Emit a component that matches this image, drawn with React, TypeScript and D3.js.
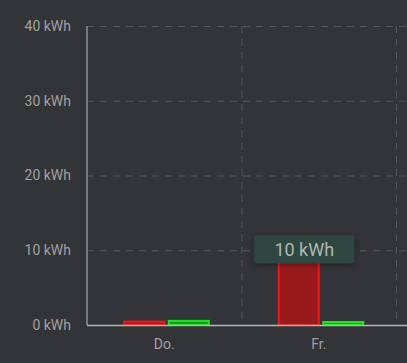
import React from "react";
import * as d3 from "d3";

const categories = ["Do.", "Fr."];
const consumption = [0.45, 10];
const solar = [0.55, 0.4];
const yTicks = [0, 10, 20, 30, 40];
const unit = "kWh";
const tooltipLabel = "10 kWh";

const W = 407;
const H = 363;

export default function App() {
  const left = 87;
  const top = 26;
  const bottom = 325;
  const bandW = 154.5;
  const x = d3.scaleBand<string>().domain(categories).range([left, left + bandW * categories.length]).paddingInner(0).paddingOuter(0);
  const y = d3.scaleLinear().domain([0, 40]).range([bottom, top]);
  const barW = 40;
  const bg = "#333438";
  const textCol = "#a0a0a0";
  const gridCol = "#56575b";

  const bar = (bx: number, v: number, stroke: string, fill: string, key: string) => {
    const y0 = y(0);
    const y1 = y(v);
    return (
      <rect key={key} x={bx} y={y1} width={barW} height={Math.max(0, y0 - y1)} fill={fill} stroke={stroke} strokeWidth={2} />
    );
  };

  const frIdx = 1;
  const frX = (x(categories[frIdx]) as number) + bandW / 2;
  const tipCx = frX - 14.5;
  const tipCy = y(consumption[frIdx]) - 1;

  return (
    <svg width={W} height={H} style={{ position: "absolute", left: 0, top: 0, background: bg, fontFamily: "Roboto, sans-serif" }}>
      <defs>
        <filter id="sh" x="-20%" y="-30%" width="140%" height="170%">
          <feDropShadow dx="0" dy="2" stdDeviation="3" floodColor="#000" floodOpacity="0.35" />
        </filter>
      </defs>
      <rect width={W} height={H} fill={bg} />
      {yTicks.filter((t) => t > 0).map((t) => (
        <line key={"g" + t} x1={left} x2={W + 20} y1={y(t) + 0.5} y2={y(t) + 0.5} stroke={gridCol} strokeWidth={1} strokeDasharray="7 6" />
      ))}
      {categories.map((c) => (
        <line key={"v" + c} x1={(x(c) as number) + bandW + 0.5} x2={(x(c) as number) + bandW + 0.5} y1={top} y2={bottom} stroke={gridCol} strokeWidth={1} strokeDasharray="7 6" />
      ))}
      {yTicks.map((t) => (
        <text key={"t" + t} x={71} y={y(t)} dy="0.35em" textAnchor="end" fill={textCol} fontSize={14}>
          {t} {unit}
        </text>
      ))}
      {categories.map((c, i) => {
        const cx = (x(c) as number) + bandW / 2;
        return (
          <g key={c}>
            {bar(cx - 40, consumption[i], "#ff1010", "rgba(255,0,0,0.5)", c + "r")}
            {bar(cx + 4.5, solar[i], "#12ee12", "rgba(0,255,0,0.5)", c + "g")}
            <text x={cx} y={344} dy="0.35em" textAnchor="middle" fill={textCol} fontSize={14}>{c}</text>
          </g>
        );
      })}
      <line x1={left} x2={left} y1={top} y2={bottom} stroke="#8e8f92" strokeWidth={1.5} />
      <line x1={left} x2={W + 20} y1={bottom + 0.5} y2={bottom + 0.5} stroke="#b5b5b7" strokeWidth={1.5} />
      <g filter="url(#sh)">
        <rect x={tipCx - 50} y={tipCy - 14} width={100} height={28} rx={2} fill="#2f4741" />
      </g>
      <text x={tipCx} y={tipCy} dy="0.36em" textAnchor="middle" fill="#b2b5b3" fontSize={18} fontWeight={400}>
        {tooltipLabel}
      </text>
    </svg>
  );
}
